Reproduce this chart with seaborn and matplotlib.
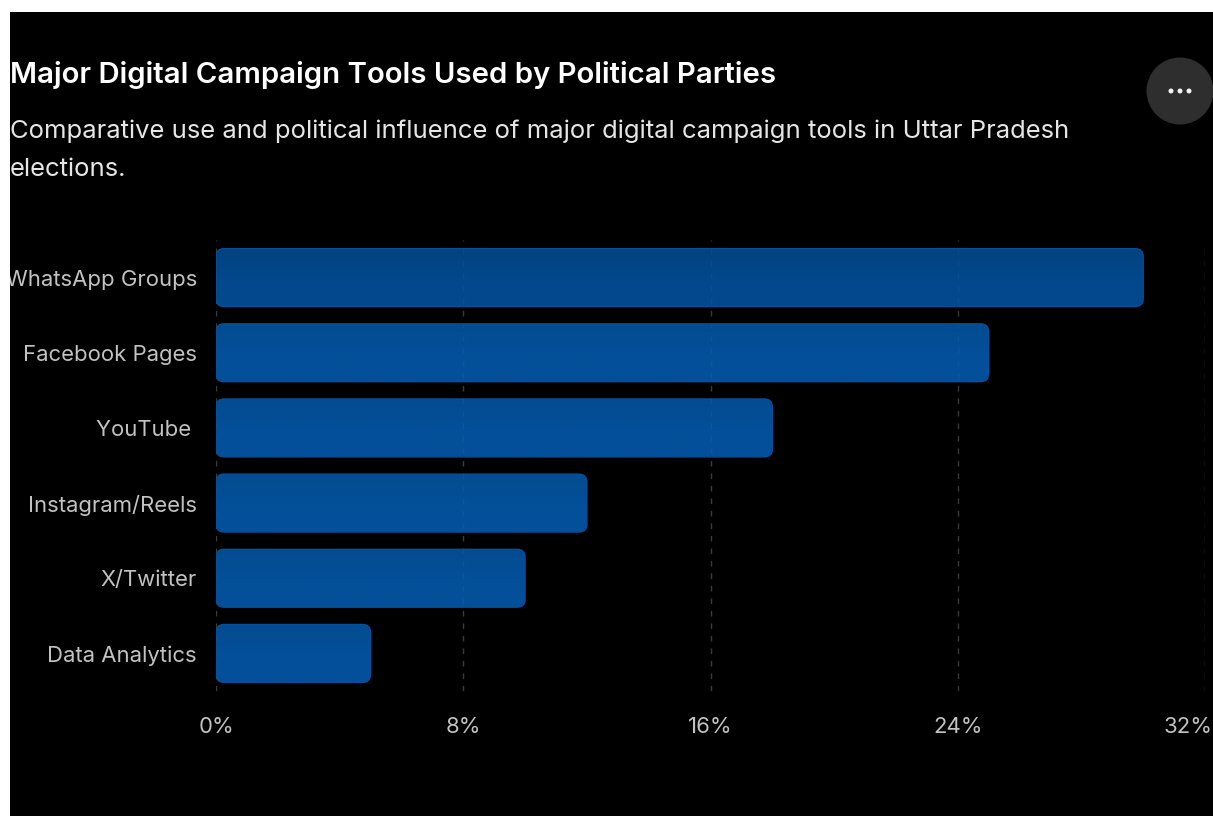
import matplotlib
matplotlib.use("Agg")
import matplotlib.pyplot as plt
import matplotlib.transforms as mtrans
import numpy as np
import pandas as pd
import seaborn as sns
from matplotlib.patches import FancyBboxPatch, Rectangle, Ellipse

categories = ["WhatsApp Groups", "Facebook Pages", "YouTube ", "Instagram/Reels", "X/Twitter", "Data Analytics"]
values = [30, 25, 18, 12, 10, 5]
x_ticks = [0, 8, 16, 24, 32]
title = "Major Digital Campaign Tools Used by Political Parties"
subtitle = "Comparative use and political influence of major digital campaign tools in Uttar Pradesh\nelections."

W, H = 1213, 816
sns.set_theme(style="white")
plt.rcParams["font.family"] = ["Inter", "DejaVu Sans"]
fig = plt.figure(figsize=(W / 100, H / 100), dpi=100, facecolor="white")
fig.add_artist(Rectangle((10 / W, 0), 1 - 10 / W, 1 - 12 / H, transform=fig.transFigure, fc="black", ec="none", zorder=-5))

ax = fig.add_axes([216 / W, 1 - 691 / H, 989 / W, 451 / H])
ax.patch.set_alpha(0)
df = pd.DataFrame({"tool": categories, "share": values})
sns.barplot(data=df, y="tool", x="share", ax=ax, color="#044c94", saturation=1, width=0.77, orient="h")
ax.set_xlim(0, 32)
ax.set_ylim(5.5, -0.5)
ax.set_autoscale_on(False)
ax.set_xticks(x_ticks)
ax.set_xticklabels([f"{t}%" for t in x_ticks])
ax.set_xlabel("")
ax.set_ylabel("")
ax.tick_params(axis="x", length=0, pad=19, labelsize=15.9, colors="#c2c2c2")
ax.tick_params(axis="y", length=0, pad=13.6, labelsize=15.9, colors="#c2c2c2")
# the reference pulls the last tick label in so it ends at the picture's edge
last = ax.get_xticklabels()[-1]
last.set_ha("right")
last.set_transform(last.get_transform() + mtrans.ScaledTranslation(8 / 100, 0, fig.dpi_scale_trans))
for lab in ax.get_yticklabels():
    lab.set_clip_on(True)
    lab.set_clip_box(mtrans.Bbox([[10, 0], [W, H]]))
for s in ax.spines.values():
    s.set_visible(False)
ax.xaxis.grid(True, color="#3a3a3a", linestyle=(0, (4, 5)), linewidth=1)
ax.yaxis.grid(False)
ax.set_axisbelow(True)

# rounded corners and the faint vertical shading on each bar, in pixel units
fig.canvas.draw()
grad = np.linspace(0, 1, 64).reshape(-1, 1)
cmap_top = matplotlib.colors.LinearSegmentedColormap.from_list("t", ["#034c92", "#0452a0", "#0454a2"])
cmap_rest = matplotlib.colors.LinearSegmentedColormap.from_list("r", ["#0457a6", "#055baf", "#055caf"])
inv = ax.transData.inverted()
boxes = [p.get_window_extent() for p in ax.patches]
for i, (p, bb) in enumerate(zip(list(ax.patches), boxes)):
    p.set_visible(False)
    r = 8
    d0 = inv.transform((bb.x0, bb.y0))
    d1 = inv.transform((bb.x1, bb.y1))
    im = ax.imshow(grad, cmap=cmap_top if i == 0 else cmap_rest, aspect="auto", alpha=0.88,
                   extent=(d0[0], d1[0], d0[1], d1[1]), zorder=3, interpolation="bilinear")
    clip = FancyBboxPatch((bb.x0 + r, bb.y0 + r), bb.width - 2 * r, bb.height - 2 * r,
                          boxstyle=f"round,pad={r},rounding_size={r}", transform=mtrans.IdentityTransform(), fc="none", ec="none")
    im.set_clip_path(clip)
    ax.add_artist(FancyBboxPatch((bb.x0 + r, bb.y0 + r), bb.width - 2 * r, bb.height - 2 * r,
                                 boxstyle=f"round,pad={r},rounding_size={r}", transform=mtrans.IdentityTransform(),
                                 fc="none", ec="#064f9a", lw=1, zorder=3.5))
ax.set_xlim(0, 32)
ax.set_ylim(5.5, -0.5)

fig.text(10 / W, 1 - 75 / H, title, color="white", fontsize=21.15, fontweight="semibold", va="center", ha="left")
fig.text(10 / W, 1 - 131 / H, subtitle.split("\n")[0], color="#e6e6e6", fontsize=18.47, va="center", ha="left")
fig.text(10 / W, 1 - 169 / H, subtitle.split("\n")[1], color="#e6e6e6", fontsize=18.47, va="center", ha="left")

# menu button
fig.add_artist(Ellipse((1180 / W, 1 - 91 / H), 67 / W, 67 / H, transform=fig.transFigure, fc="#2e2e2e", ec="none"))
for dx in (-9, 0, 9):
    fig.add_artist(Ellipse(((1180 + dx) / W, 1 - 91 / H), 5 / W, 5 / H, transform=fig.transFigure, fc="#f2f2f2", ec="none"))
fig.savefig("out.png", dpi=100, facecolor="white")
